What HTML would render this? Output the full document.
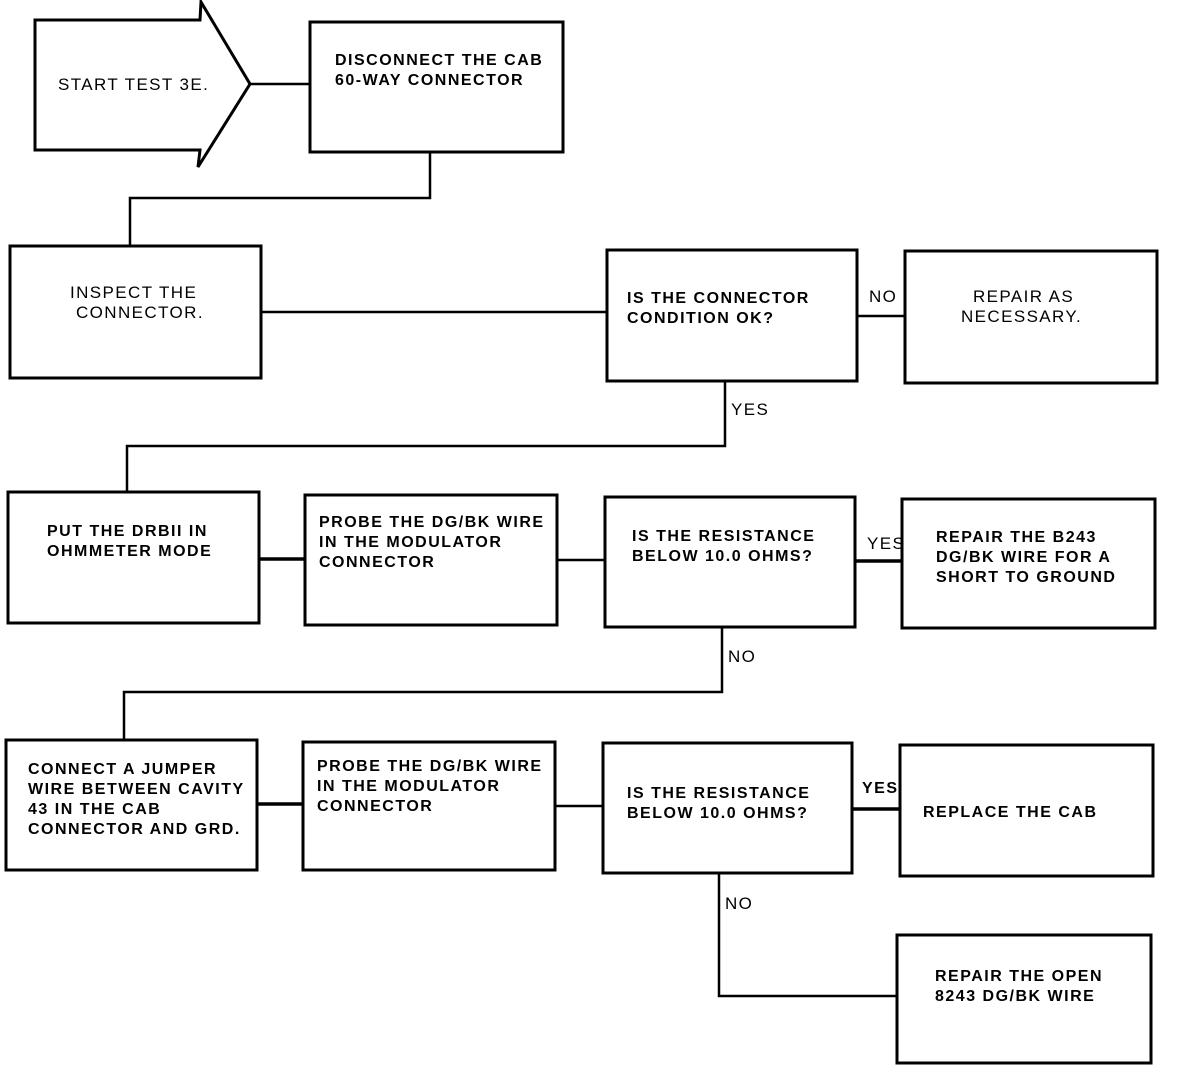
<!DOCTYPE html>
<html><head><meta charset="utf-8"><style>
body{margin:0;background:#fff}
svg{display:block}
text{font-family:"Liberation Sans",sans-serif;font-weight:bold;font-size:16px;fill:#000;letter-spacing:1.5px}
.s{font-weight:normal;font-size:17px;letter-spacing:1.4px}
</style></head><body>
<svg width="1200" height="1068" viewBox="0 0 1200 1068">
<g fill="none" stroke="#000" stroke-width="3">
<polygon points="35,20 200,20 201,2 250,84 198,167 200,150 35,150"/>
<rect x="310" y="22" width="253" height="130"/>
<rect x="10" y="246" width="251" height="132"/>
<rect x="607" y="250" width="250" height="131"/>
<rect x="905" y="251" width="252" height="132"/>
<rect x="8" y="492" width="251" height="131"/>
<rect x="305" y="495" width="252" height="130"/>
<rect x="605" y="497" width="250" height="130"/>
<rect x="902" y="499" width="253" height="129"/>
<rect x="6" y="740" width="251" height="130"/>
<rect x="303" y="742" width="252" height="128"/>
<rect x="603" y="743" width="249" height="130"/>
<rect x="900" y="745" width="253" height="131"/>
<rect x="897" y="935" width="254" height="128"/>
</g>
<g fill="none" stroke="#000" stroke-width="2.5">
<path d="M250,84H310"/>
<path d="M430,152V198H130V246"/>
<path d="M261,312H607"/>
<path d="M857,316H905"/>
<path d="M725,381V446H127V492"/>
<path d="M259,559H305" stroke-width="3.5"/>
<path d="M557,560H605"/>
<path d="M855,561H902" stroke-width="3.5"/>
<path d="M722,627V692H124V740"/>
<path d="M257,804H303" stroke-width="3.5"/>
<path d="M555,806H603"/>
<path d="M852,809H900" stroke-width="3.5"/>
<path d="M719,873V996H897"/>
</g>
<text class="s" x="58" y="90">START TEST 3E.</text>
<text x="335" y="65">DISCONNECT THE CAB</text>
<text x="335" y="85">60-WAY CONNECTOR</text>
<text class="s" x="70" y="298">INSPECT THE</text>
<text class="s" x="76" y="318">CONNECTOR.</text>
<text x="627" y="303">IS THE CONNECTOR</text>
<text x="627" y="323">CONDITION OK?</text>
<text class="s" x="869" y="302">NO</text>
<text class="s" x="973" y="302">REPAIR AS</text>
<text class="s" x="961" y="322">NECESSARY.</text>
<text class="s" x="731" y="415">YES</text>
<text x="47" y="536">PUT THE DRBII IN</text>
<text x="47" y="556">OHMMETER MODE</text>
<text x="319" y="527">PROBE THE DG/BK WIRE</text>
<text x="319" y="547">IN THE MODULATOR</text>
<text x="319" y="567">CONNECTOR</text>
<text x="632" y="541">IS THE RESISTANCE</text>
<text x="632" y="561">BELOW 10.0 OHMS?</text>
<text class="s" x="867" y="549">YES</text>
<text x="936" y="542">REPAIR THE B243</text>
<text x="936" y="562">DG/BK WIRE FOR A</text>
<text x="936" y="582">SHORT TO GROUND</text>
<text class="s" x="728" y="662">NO</text>
<text x="28" y="774">CONNECT A JUMPER</text>
<text x="28" y="794">WIRE BETWEEN CAVITY</text>
<text x="28" y="814">43 IN THE CAB</text>
<text x="28" y="834">CONNECTOR AND GRD.</text>
<text x="317" y="771">PROBE THE DG/BK WIRE</text>
<text x="317" y="791">IN THE MODULATOR</text>
<text x="317" y="811">CONNECTOR</text>
<text x="627" y="798">IS THE RESISTANCE</text>
<text x="627" y="818">BELOW 10.0 OHMS?</text>
<text x="862" y="793">YES</text>
<text x="923" y="817">REPLACE THE CAB</text>
<text class="s" x="725" y="909">NO</text>
<text x="935" y="981">REPAIR THE OPEN</text>
<text x="935" y="1001">8243 DG/BK WIRE</text>
</svg>
</body></html>
